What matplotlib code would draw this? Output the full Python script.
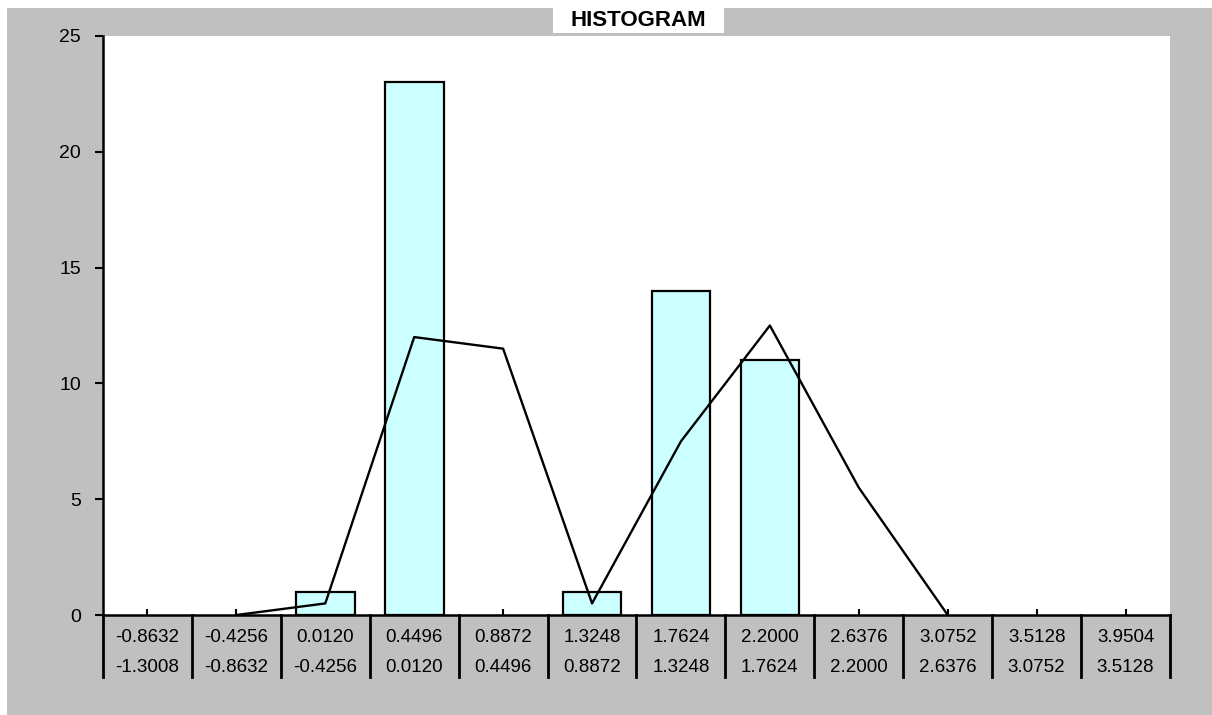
import numpy as np
import matplotlib
matplotlib.use("Agg")
import matplotlib.pyplot as plt
from matplotlib.patches import Rectangle

plt.rcParams["font.family"] = ["Liberation Sans", "DejaVu Sans"]

# bin upper / lower bounds (two-row category labels)
upper_labels = ["-0.8632", "-0.4256", "0.0120", "0.4496", "0.8872", "1.3248",
                "1.7624", "2.2000", "2.6376", "3.0752", "3.5128", "3.9504"]
lower_labels = ["-1.3008", "-0.8632", "-0.4256", "0.0120", "0.4496", "0.8872",
                "1.3248", "1.7624", "2.2000", "2.6376", "3.0752", "3.5128"]
counts = [0, 0, 1, 23, 0, 1, 14, 11, 0, 0, 0, 0]
curve = [np.nan, 0, 0.5, 12, 11.5, 0.5, 7.5, 12.5, 5.5, 0, np.nan, np.nan]

W, H = 1212, 715
fig = plt.figure(figsize=(W / 100, H / 100), dpi=100, facecolor="white")

# grey chart area (behind everything)
fig.patches.append(Rectangle((7 / W, 0), 1 - 7 / W, 1 - 8 / H,
                             transform=fig.transFigure, facecolor="#c0c0c0",
                             edgecolor="none", zorder=-10))
# white title box
fig.patches.append(Rectangle((553 / W, 1 - 33 / H), 171 / W, 25 / H,
                             transform=fig.transFigure, facecolor="white",
                             edgecolor="none", zorder=-5))

left, right, top, bottom = 103, 1170, 36, 615
ax = fig.add_axes([left / W, 1 - bottom / H, (right - left) / W, (bottom - top) / H])
ax.set_facecolor("white")

x = np.arange(1, len(counts) + 1)
bars = ax.bar(x, counts, width=0.66, color="#ccffff", edgecolor="black", linewidth=1.6, zorder=2)
# empty bins show no outline
for b, c in zip(bars, counts):
    if c == 0:
        b.set_visible(False)
ax.plot(x, curve, color="black", linewidth=1.7, zorder=3)

ax.set_xlim(0.5, len(counts) + 0.5)
ax.set_ylim(0, 25)
ax.set_yticks([0, 5, 10, 15, 20, 25])
ax.tick_params(axis="y", direction="out", length=6, width=1.5, labelsize=14, pad=10)
ax.set_xticks(x)
ax.set_xticklabels([])
ax.tick_params(axis="x", direction="in", length=4, width=1.5)

for side in ["top", "right"]:
    ax.spines[side].set_visible(False)
for side in ["left", "bottom"]:
    ax.spines[side].set_linewidth(1.8)

# category separators and two-row labels below the axis
ax_h = bottom - top
trans = ax.get_xaxis_transform()
for b in np.arange(0.5, len(counts) + 1, 1.0):
    ax.plot([b, b], [0, -62 / ax_h], color="black", linewidth=2.0,
            transform=trans, clip_on=False)
for xi, up, lo in zip(x, upper_labels, lower_labels):
    ax.text(xi, -22 / ax_h, up, transform=trans, ha="center", va="center", fontsize=13.5)
    ax.text(xi, -53 / ax_h, lo, transform=trans, ha="center", va="center", fontsize=13.5)

fig.text(638 / W, 1 - 21 / H, "HISTOGRAM", ha="center", va="center",
         fontsize=16, fontweight="bold")

fig.savefig("out.png", dpi=100, facecolor=fig.get_facecolor())
